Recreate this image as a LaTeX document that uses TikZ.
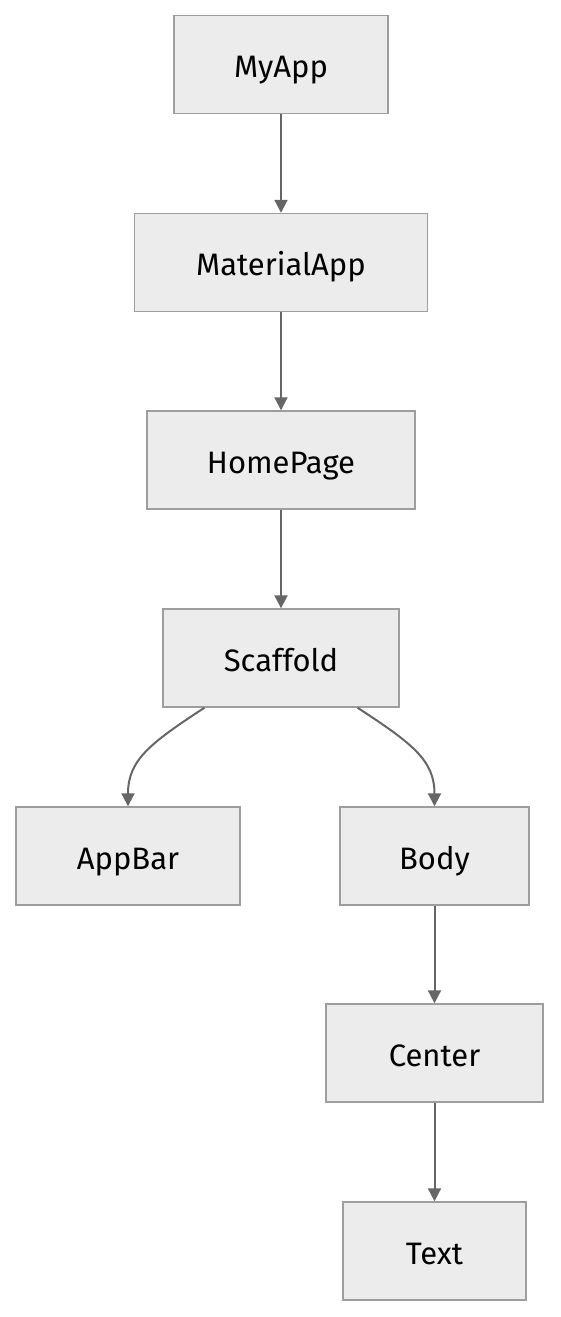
\documentclass[tikz,border=0pt]{standalone}
\usepackage{fontspec}
\setmainfont{Fira Sans}
\usetikzlibrary{arrows.meta}
\definecolor{BoxFill}{HTML}{ECECEC}
\definecolor{BoxLine}{HTML}{9E9E9E}
\definecolor{EdgeInk}{HTML}{666666}
\tikzset{
  tree/.style={x=1pt,y=-1pt,font=\fontsize{31}{36}\selectfont},
  widget/.style={draw=BoxLine,line width=1.4pt,fill=BoxFill,minimum height=98pt,
    inner sep=0pt,text height=26pt,text depth=0pt},
  link/.style={-{Triangle[length=13pt,width=13pt]},line width=2pt,draw=EdgeInk},
}
\begin{document}
\begin{tikzpicture}[tree]
  \useasboundingbox (0,0) rectangle (560,1317);

  \node[widget,minimum width=214pt] (myapp) at (281,64.5) {MyApp};
  \node[widget,minimum width=293pt] (materialapp) at (281,262.5) {MaterialApp};
  \node[widget,minimum width=268pt] (homepage) at (281,460) {HomePage};
  \node[widget,minimum width=236pt] (scaffold) at (281,658) {Scaffold};
  \node[widget,minimum width=224pt] (appbar) at (128,856) {AppBar};
  \node[widget,minimum width=189pt] (body) at (434.5,856) {Body};
  \node[widget,minimum width=217pt] (center) at (434.5,1053) {Center};
  \node[widget,minimum width=183pt] (text) at (434.5,1251) {Text};

  \draw[link] (myapp) -- (materialapp);
  \draw[link] (materialapp) -- (homepage);
  \draw[link] (homepage) -- (scaffold);
  \draw[link] (scaffold.213) .. controls +(-55,36) and +(0,-46) .. (appbar.north);
  \draw[link] (scaffold.327) .. controls +(55,36) and +(0,-46) .. (body.north);
  \draw[link] (body) -- (center);
  \draw[link] (center) -- (text);
\end{tikzpicture}
\end{document}
